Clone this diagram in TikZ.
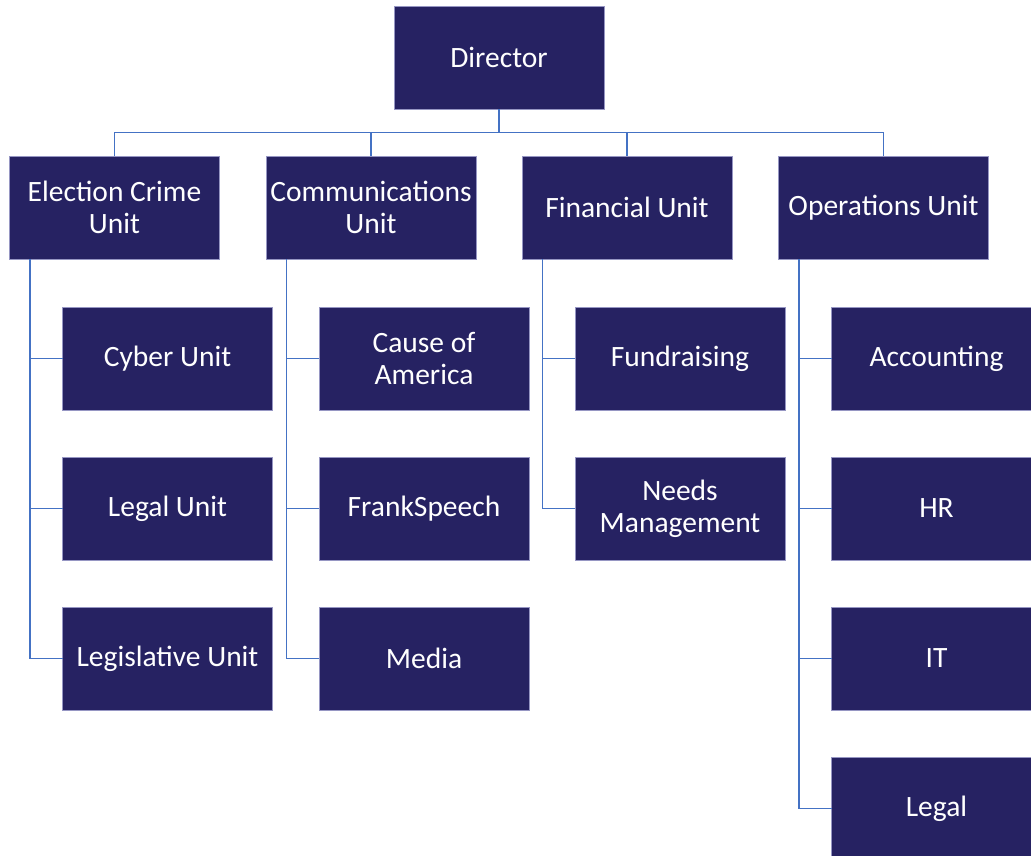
\documentclass[tikz,border=0pt]{standalone}
\usepackage{fontspec}
\setmainfont{Carlito}
\usepackage{tikz}
\usetikzlibrary{positioning}
\usetikzlibrary{calc}
\definecolor{navy}{RGB}{38,34,98}
\definecolor{rim}{RGB}{150,150,195}
\definecolor{wire}{RGB}{68,114,196}
\tikzstyle{block} = [draw = rim, line width = 0.7pt, fill = navy, rectangle, minimum width = 210pt, minimum height = 103pt, text = white, align = center, font = \fontsize{29.5}{32}\selectfont, inner sep = 0pt, outer sep = 0pt]
\tikzstyle{link} = [wire, line width = 1.8pt]

\begin{document}
\begin{tikzpicture}[x = 1pt, y = 1pt]
		\useasboundingbox (0,0) rectangle (1031,-855);
		
		% Director
		\node[block] (dir) at (499,-57.5) {Director};
		\coordinate[below = 23.5pt of dir.south] (bdir);
		
		% Units
		\node[block, anchor = north] (ecu) at (114.5,-156) {Election Crime\\Unit};
		\node[block, right = 46.5pt of ecu] (com) {Communications\\Unit};
		\node[block, right = 46pt of com] (fin) {Financial Unit};
		\node[block, right = 46.5pt of fin] (ops) {Operations Unit};
		
		% Election crime unit
		\node[block, below = 48pt of ecu, xshift = 53pt] (cyber) {Cyber Unit};
		\node[block, below = 47pt of cyber] (legalu) {Legal Unit};
		\node[block, below = 47pt of legalu] (legis) {Legislative Unit};
		\coordinate[right = 20.5pt of ecu.south west] (lecu);
		
		% Communications unit
		\node[block, below = 48pt of com, xshift = 53pt] (cause) {Cause of\\America};
		\node[block, below = 47pt of cause] (frank) {FrankSpeech};
		\node[block, below = 47pt of frank] (media) {Media};
		\coordinate[right = 20.5pt of com.south west] (lcom);
		
		% Financial unit
		\node[block, below = 48pt of fin, xshift = 53pt] (fund) {Fundraising};
		\node[block, below = 47pt of fund] (needs) {Needs\\Management};
		\coordinate[right = 20.5pt of fin.south west] (lfin);
		
		% Operations unit
		\node[block, below = 48pt of ops, xshift = 53pt] (acc) {Accounting};
		\node[block, below = 47pt of acc] (hr) {HR};
		\node[block, below = 47pt of hr] (it) {IT};
		\node[block, below = 47pt of it] (legal) {Legal};
		\coordinate[right = 20.5pt of ops.south west] (lops);
		
		% Connect all nodes defined above
		\draw[link] (dir.south) -- (bdir);
		\draw[link] (bdir) -| (ecu.north);
		\draw[link] (bdir) -| (com.north);
		\draw[link] (bdir) -| (fin.north);
		\draw[link] (bdir) -| (ops.north);
		\draw[link] (lecu) |- (cyber.west);
		\draw[link] (lecu) |- (legalu.west);
		\draw[link] (lecu) |- (legis.west);
		\draw[link] (lcom) |- (cause.west);
		\draw[link] (lcom) |- (frank.west);
		\draw[link] (lcom) |- (media.west);
		\draw[link] (lfin) |- (fund.west);
		\draw[link] (lfin) |- (needs.west);
		\draw[link] (lops) |- (acc.west);
		\draw[link] (lops) |- (hr.west);
		\draw[link] (lops) |- (it.west);
		\draw[link] (lops) |- (legal.west);
		
	\end{tikzpicture}
\end{document}
